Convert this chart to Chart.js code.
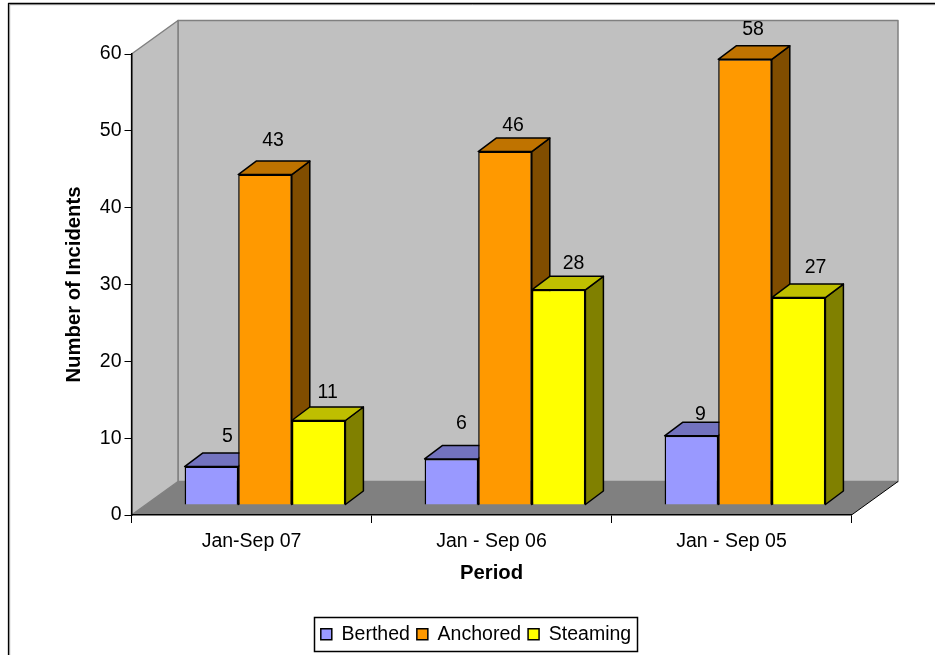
<!DOCTYPE html>
<html>
<head>
<meta charset="utf-8">
<style>
  html, body { margin: 0; padding: 0; background: #fff; }
  #chartWrap { position: relative; width: 935px; height: 655px; }
</style>
<script src="https://cdn.jsdelivr.net/npm/chart.js@4"></script>
</head>
<body>
<div id="chartWrap"><canvas id="incidents"></canvas></div>
<script>
var periods = ["Jan-Sep 07", "Jan - Sep 06", "Jan - Sep 05"];
var berthed = [5, 6, 9];
var anchored = [43, 46, 58];
var steaming = [11, 28, 27];

// hand placed data label offsets from the centre of each bar top
var berthedNudge = [[16, -30], [10, -35], [9, -21]];
var anchoredNudge = [[8, -34], [8, -26], [8, -30]];
var steamingNudge = [[9, -28], [15, -26], [17, -30]];

var FONT = "Liberation Sans, Arial, sans-serif";
var TEXT_SIZE = 19.5;
var TITLE_SIZE = 20.3;

// plot box in canvas pixels
var PLOT = { left: 131.5, right: 851.5, top: 54, bottom: 515 };
var ROOM = { dx: 46.5, dy: -33.5 };     // depth of walls and floor
var BAR_SHIFT = { dx: 13.5, dy: -10 };  // where the bars sit in the room
var BAR_DEPTH = { dx: 18, dy: -13.5 };
var LEGEND_BOX = { left: 314.5, right: 637.5, top: 617.5, bottom: 651.5 };

function poly(ctx, pts, fill, stroke, width) {
    ctx.beginPath();
    ctx.moveTo(pts[0][0], pts[0][1]);
    for (var i = 1; i < pts.length; i++) ctx.lineTo(pts[i][0], pts[i][1]);
    ctx.closePath();
    if (fill) { ctx.fillStyle = fill; ctx.fill(); }
    if (stroke) {
        ctx.strokeStyle = stroke;
        ctx.lineWidth = width;
        ctx.lineJoin = "round";
        ctx.stroke();
    }
}

function frameLine(ctx, inset, color, width) {
    ctx.strokeStyle = color;
    ctx.lineWidth = width;
    ctx.beginPath();
    ctx.moveTo(8.5 + inset, 655);
    ctx.lineTo(8.5 + inset, 3.5 + inset);
    ctx.lineTo(935, 3.5 + inset);
    ctx.stroke();
}

// walls, floor and outer frame go under the axes
var room = {
    id: "room",
    beforeDraw: function (chart) {
        var ctx = chart.ctx, a = chart.chartArea;
        var l = a.left, r = a.right, t = a.top, b = a.bottom;
        var dx = ROOM.dx, dy = ROOM.dy;
        ctx.save();
        poly(ctx, [[l + dx, t + dy], [r + dx, t + dy], [r + dx, b + dy], [l + dx, b + dy]], "#c0c0c0", "#808080", 1.5);
        poly(ctx, [[l, t], [l + dx, t + dy], [l + dx, b + dy], [l, b]], "#c0c0c0", "#808080", 1.5);
        poly(ctx, [[l, b], [l + dx, b + dy], [r + dx, b + dy], [r, b]], "#808080", null);
        ctx.strokeStyle = "#000";
        ctx.lineWidth = 1;
        ctx.beginPath();
        ctx.moveTo(r, b);
        ctx.lineTo(r + dx, b + dy);
        ctx.stroke();
        // frame shows on the top and left only, with a soft grey inner edge
        frameLine(ctx, 1.2, "#a6a6a6", 1);
        frameLine(ctx, 0, "#000", 1.3);
        ctx.restore();
    },
    afterDraw: function (chart) {
        var ctx = chart.ctx;
        ctx.save();
        ctx.strokeStyle = "#000";
        ctx.lineWidth = 1.5;
        ctx.strokeRect(LEGEND_BOX.left, LEGEND_BOX.top, LEGEND_BOX.right - LEGEND_BOX.left, LEGEND_BOX.bottom - LEGEND_BOX.top);
        ctx.restore();
    }
};

// bars are drawn left to right so each one overlaps the side of the one before
var extrude = {
    id: "extrude",
    beforeDatasetsDraw: function (chart) {
        var ctx = chart.ctx;
        var dx = BAR_DEPTH.dx, dy = BAR_DEPTH.dy;
        ctx.save();
        ctx.translate(BAR_SHIFT.dx, BAR_SHIFT.dy);
        chart.data.datasets.forEach(function (ds, i) {
            var meta = chart.getDatasetMeta(i);
            meta.data.forEach(function (bar) {
                var p = bar.getProps(["x", "y", "base", "width"], true);
                var x0 = p.x - p.width / 2, x1 = p.x + p.width / 2;
                poly(ctx, [[x1, p.y], [x1 + dx, p.y + dy], [x1 + dx, p.base + dy], [x1, p.base]], ds.sideColor, "#000", 1.5);
                poly(ctx, [[x0, p.y], [x0 + dx, p.y + dy], [x1 + dx, p.y + dy], [x1, p.y]], ds.topColor, "#000", 1.5);
            });
            meta.controller.draw();
        });
        ctx.restore();

        ctx.save();
        ctx.fillStyle = "#000";
        ctx.font = TEXT_SIZE + "px " + FONT;
        ctx.textAlign = "center";
        ctx.textBaseline = "middle";
        chart.data.datasets.forEach(function (ds, i) {
            chart.getDatasetMeta(i).data.forEach(function (bar, j) {
                var p = bar.getProps(["x", "y"], true);
                ctx.fillText(ds.data[j],
                    p.x + BAR_SHIFT.dx + ds.nudge[j][0],
                    p.y + BAR_SHIFT.dy + ds.nudge[j][1]);
            });
        });
        ctx.restore();
        return false;
    },
    // legend sits under the plot's centre line, not the canvas's
    afterLayout: function (chart) {
        var lg = chart.legend;
        lg.left = LEGEND_BOX.left - 60;
        lg.right = LEGEND_BOX.right + 60;
        lg.top = LEGEND_BOX.top;
        lg.bottom = LEGEND_BOX.bottom;
    }
};

var ctx = document.getElementById("incidents").getContext("2d");
var myChart = new Chart(ctx, {
    type: "bar",
    data: {
        labels: periods,
        datasets: [
            { label: "Berthed", data: berthed, nudge: berthedNudge, backgroundColor: "#9999ff", topColor: "#7373bf", sideColor: "#4d4d80", borderColor: "#000", borderWidth: 1.5 },
            { label: "Anchored", data: anchored, nudge: anchoredNudge, backgroundColor: "#ff9900", topColor: "#bf7300", sideColor: "#804d00", borderColor: "#000", borderWidth: 1.5 },
            { label: "Steaming", data: steaming, nudge: steamingNudge, backgroundColor: "#ffff00", topColor: "#bfbf00", sideColor: "#808000", borderColor: "#000", borderWidth: 1.5 }
        ]
    },
    plugins: [room, extrude],
    options: {
        responsive: true,
        maintainAspectRatio: false,
        animation: false,
        layout: { padding: { top: PLOT.top, right: 935 - PLOT.right, left: 0, bottom: 0 } },
        datasets: { bar: { categoryPercentage: 0.67, barPercentage: 1 } },
        plugins: {
            tooltip: { enabled: false },
            legend: {
                display: true,
                position: "bottom",
                labels: {
                    color: "#000",
                    font: { family: FONT, size: TEXT_SIZE },
                    boxWidth: 11,
                    boxHeight: 11,
                    padding: 7,
                    generateLabels: function (chart) {
                        return chart.data.datasets.map(function (ds, i) {
                            return { text: ds.label, fillStyle: ds.backgroundColor, strokeStyle: "#000", lineWidth: 1.5, datasetIndex: i };
                        });
                    }
                }
            }
        },
        scales: {
            x: {
                afterFit: function (scale) {
                    scale.height = 655 - PLOT.bottom - scale.chart.legend.height;
                },
                grid: { display: true, drawOnChartArea: false, color: "#000", tickLength: 8, lineWidth: 1, offset: true },
                border: { display: true, color: "#000", width: 1.5 },
                ticks: { color: "#000", font: { family: FONT, size: TEXT_SIZE }, padding: 7, maxRotation: 0 },
                title: { display: true, text: "Period", color: "#000", font: { family: FONT, size: TITLE_SIZE, weight: "bold" }, padding: { top: 6, bottom: 33 } }
            },
            y: {
                min: 0,
                max: 60,
                afterFit: function (scale) { scale.width = PLOT.left; },
                grid: { display: true, drawOnChartArea: false, color: "#000", tickLength: 7, lineWidth: 1 },
                border: { display: true, color: "#000", width: 1.5 },
                ticks: { stepSize: 10, color: "#000", font: { family: FONT, size: TEXT_SIZE }, padding: 3 },
                title: { display: true, text: "Number of Incidents", color: "#000", font: { family: FONT, size: TITLE_SIZE, weight: "bold" }, padding: { top: 62, bottom: 0 } }
            }
        }
    }
});
</script>
</body>
</html>
